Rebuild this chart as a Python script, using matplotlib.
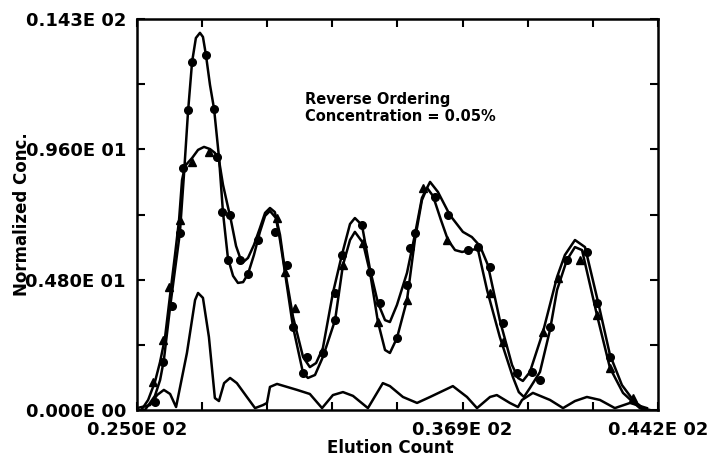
import matplotlib
matplotlib.use("Agg")
import matplotlib.pyplot as plt
import numpy as np

# Curve with tall first peak (circle series)
curve_a_x = [25.29, 25.48, 25.66, 25.85, 25.99, 26.22, 26.40, 26.58, 26.73, 26.88, 27.03, 27.17, 27.32, 27.43,
             27.54, 27.69, 27.84, 28.02, 28.17, 28.35, 28.54, 28.72, 28.91, 29.09, 29.31, 29.53, 29.72, 29.90,
             30.12, 30.27, 30.45, 30.75, 31.12, 31.30, 31.56, 31.85, 32.30, 32.59, 32.85, 33.03, 33.33, 33.59,
             33.88, 34.14, 34.32, 34.58, 34.95, 35.24, 35.50, 35.69, 35.91, 36.20, 36.46, 36.72, 36.98, 37.27,
             37.56, 37.90, 38.37, 38.85, 39.07, 39.26, 39.48, 39.85, 40.22, 40.48, 40.84, 41.14, 41.40, 41.95,
             42.43, 42.91, 43.28, 43.53, 43.72]
curve_a_y = [0.00, 0.26, 0.52, 1.10, 1.84, 3.79, 5.16, 6.52, 8.66, 10.98, 12.82, 13.70, 13.89, 13.74,
             13.08, 11.97, 11.09, 9.32, 7.26, 5.60, 4.94, 4.68, 4.71, 5.01, 5.71, 6.56, 7.15, 7.33,
             7.07, 6.26, 5.08, 3.06, 1.36, 1.18, 1.29, 1.95, 3.31, 5.34, 6.26, 6.56, 6.15, 5.05,
             3.24, 2.21, 2.10, 2.65, 4.05, 6.26, 7.73, 8.18, 7.88, 7.00, 6.26, 5.89, 5.82, 5.89,
             5.93, 4.42, 2.69, 1.22, 0.66, 0.48, 0.81, 1.40, 2.95, 4.42, 5.52, 6.00, 5.89, 3.50,
             1.55, 0.63, 0.29, 0.07, 0.00]

# Curve with broad first peak (triangle series)
curve_b_x = [25.16, 25.41, 25.66, 25.85, 26.03, 26.22, 26.40, 26.55, 26.66, 26.77, 27.03, 27.25, 27.47, 27.69,
             27.87, 28.02, 28.17, 28.32, 28.46, 28.65, 28.87, 29.09, 29.31, 29.53, 29.72, 29.90, 30.08, 30.27,
             30.45, 30.75, 31.12, 31.37, 31.60, 31.85, 32.22, 32.55, 32.85, 33.03, 33.29, 33.59, 33.88, 34.14,
             34.32, 34.58, 34.95, 35.24, 35.50, 35.80, 36.09, 36.53, 37.01, 37.34, 37.64, 37.93, 38.37, 38.82,
             39.04, 39.22, 39.48, 39.96, 40.48, 40.77, 41.14, 41.51, 41.99, 42.43, 42.87, 43.28, 43.64, 43.90]
curve_b_y = [0.00, 0.37, 1.03, 1.77, 2.65, 4.24, 5.71, 7.00, 8.47, 8.99, 9.28, 9.58, 9.69, 9.61,
             9.47, 9.21, 8.29, 7.62, 7.00, 6.04, 5.41, 5.60, 6.08, 6.70, 7.26, 7.44, 7.29, 6.45,
             5.16, 3.43, 1.95, 1.58, 1.73, 2.28, 4.31, 5.71, 6.85, 7.07, 6.81, 5.16, 3.94, 3.31,
             3.24, 3.87, 5.05, 6.45, 7.81, 8.40, 8.03, 7.18, 6.56, 6.37, 6.04, 5.34, 3.31, 1.66,
             1.18, 1.07, 1.40, 2.87, 4.90, 5.71, 6.26, 6.00, 3.98, 2.03, 0.92, 0.37, 0.07, 0.00]

# Bottom curve
curve_c_x = [25.00, 25.48, 25.74, 25.99, 26.22, 26.44, 26.84, 27.14, 27.25, 27.43, 27.65, 27.87, 28.02, 28.21,
             28.43, 28.68, 29.05, 29.35, 29.64, 29.79, 29.90, 30.16, 30.53, 30.90, 31.37, 31.82, 32.22, 32.59,
             32.96, 33.51, 34.06, 34.32, 34.80, 35.32, 35.80, 36.64, 37.16, 37.53, 38.01, 38.26, 38.74, 39.04,
             39.19, 39.59, 40.22, 40.70, 41.14, 41.58, 42.06, 42.61, 43.17, 43.79]
curve_c_y = [0.07, 0.18, 0.55, 0.74, 0.59, 0.11, 2.10, 4.05, 4.31, 4.13, 2.69, 0.44, 0.33, 0.99,
             1.18, 0.99, 0.48, 0.07, 0.18, 0.26, 0.85, 0.96, 0.85, 0.74, 0.59, 0.07, 0.55, 0.66,
             0.52, 0.07, 0.99, 0.88, 0.48, 0.26, 0.48, 0.88, 0.48, 0.07, 0.48, 0.55, 0.26, 0.11,
             0.37, 0.63, 0.37, 0.07, 0.33, 0.48, 0.37, 0.07, 0.26, 0.07]

# Marker points
circle_x = [25.66, 25.96, 26.29, 26.58, 26.69, 26.88, 27.03, 27.54, 27.84, 27.95, 28.13, 28.43, 28.35, 28.80,
            29.09, 29.46, 30.08, 30.53, 30.75, 31.26, 31.12, 31.85, 32.30, 32.30, 32.55, 33.29, 33.59, 33.95,
            34.58, 34.95, 35.06, 35.24, 35.98, 36.46, 37.20, 37.56, 38.01, 38.49, 39.00, 39.55, 39.85, 40.22,
            40.84, 41.58, 41.95, 42.43]
circle_y = [0.29, 1.77, 3.83, 6.52, 8.91, 11.05, 12.82, 13.08, 11.09, 9.32, 7.29, 7.18, 5.52, 5.52,
            5.01, 6.26, 6.56, 5.34, 3.06, 1.95, 1.36, 2.10, 3.31, 4.31, 5.71, 6.81, 5.08, 3.94,
            2.65, 4.60, 5.97, 6.52, 7.85, 7.18, 5.89, 6.00, 5.27, 3.20, 1.36, 1.40, 1.10, 3.06,
            5.52, 5.82, 3.94, 1.95]
tri_x = [25.59, 25.96, 26.18, 26.58, 27.03, 27.65, 30.16, 30.45, 30.82, 32.59, 33.33, 33.88, 34.95, 35.54,
         36.42, 38.01, 38.49, 39.96, 40.51, 41.32, 41.95, 42.43, 43.28]
tri_y = [1.03, 2.58, 4.53, 7.00, 9.13, 9.50, 7.07, 5.08, 3.76, 5.34, 6.15, 3.24, 4.05, 8.18,
         6.26, 4.31, 2.50, 2.87, 4.86, 5.52, 3.50, 1.55, 0.44]

x_ticks = [25.0, 37.0, 44.2]
x_labels = ["0.250E 02", "0.369E 02", "0.442E 02"]
y_ticks = [0.0, 4.8, 9.6, 14.4]
y_labels = ["0.000E 00", "0.480E 01", "0.960E 01", "0.143E 02"]

plt.rcParams['font.family'] = ['DejaVu Sans']

W, H = 707, 459
fig = plt.figure(figsize=(W / 100, H / 100), dpi=100)
ax = fig.add_axes([137 / W, 49 / H, 521 / W, 391 / H])

lw = 1.8
ax.plot(curve_a_x, curve_a_y, color='black', lw=lw, solid_joinstyle='round')
ax.plot(curve_b_x, curve_b_y, color='black', lw=lw, solid_joinstyle='round')
ax.plot(curve_c_x, curve_c_y, color='black', lw=lw, solid_joinstyle='round')
ax.plot(circle_x, circle_y, 'o', color='black', ms=5.5, ls='none')
ax.plot(tri_x, tri_y, '^', color='black', ms=5.5, ls='none')

ax.set_xlim(25.0, 44.2)
ax.set_ylim(0.0, 14.4)

ax.set_xticks(x_ticks)
ax.set_xticklabels(x_labels)
ax.set_yticks(y_ticks)
ax.set_yticklabels(y_labels)
ax.set_xticks(np.arange(25.0, 44.3, 2.4), minor=True)
ax.set_yticks(np.arange(0.0, 14.5, 2.4), minor=True)

for sp in ax.spines.values():
    sp.set_linewidth(1.8)

ax.tick_params(which='both', direction='in', top=True, right=True, width=1.5)
ax.tick_params(which='major', length=6, labelsize=13, pad=8)
ax.tick_params(which='minor', length=6)
for lab in ax.get_xticklabels() + ax.get_yticklabels():
    lab.set_fontweight('bold')

fig.text(390 / W, 1 - 448 / H, "Elution Count", fontsize=12, fontweight='bold',
         ha='center', va='center')
fig.text(22 / W, 1 - 214 / H, "Normalized Conc.", fontsize=12, fontweight='bold',
         ha='center', va='center', rotation=90)

ax.text(31.2, 11.7, "Reverse Ordering\nConcentration = 0.05%", fontsize=10.5, fontweight='bold',
        va='top', ha='left', linespacing=1.15)

fig.savefig("out.png", dpi=100)
